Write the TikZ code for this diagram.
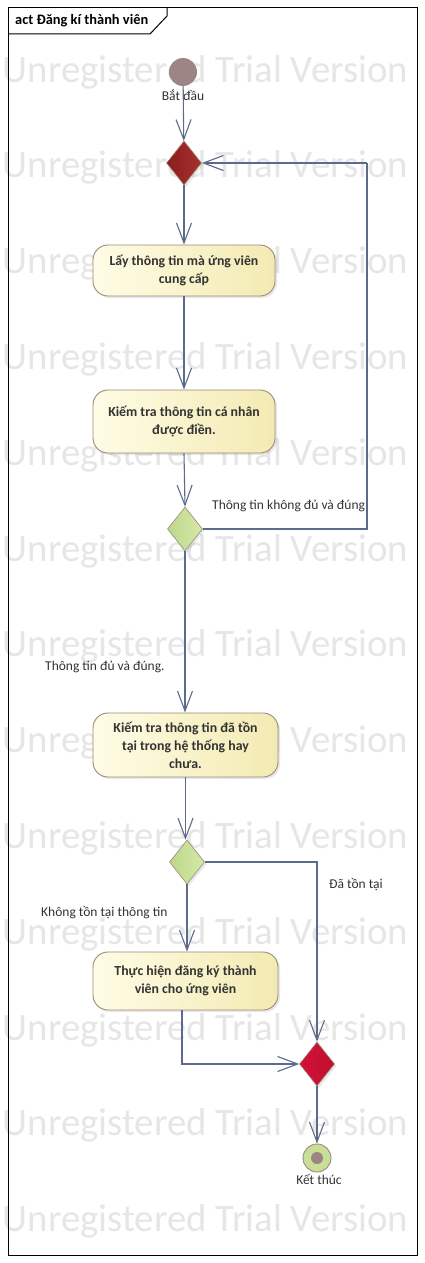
\documentclass[tikz,border=0pt]{standalone}
\usepackage{fontspec}
\setmainfont{Carlito}
\usetikzlibrary{arrows.meta,shapes.geometric,shadows}
\definecolor{linec}{HTML}{5C6B8A}
\definecolor{wmark}{HTML}{E6E6E6}
\definecolor{boxl}{HTML}{FFFCE6}
\definecolor{boxr}{HTML}{F3EAB2}
\definecolor{boxb}{HTML}{9C8A78}
\definecolor{startc}{HTML}{9E8585}
\definecolor{darkred1}{HTML}{8C1C1C}
\definecolor{darkred2}{HTML}{A83030}
\definecolor{crim1}{HTML}{D41038}
\definecolor{crim2}{HTML}{C01030}
\definecolor{grn1}{HTML}{BCD88A}
\definecolor{grn2}{HTML}{D6E8A8}
\definecolor{endg}{HTML}{C8DF98}
\definecolor{txt}{HTML}{333333}
\tikzset{
  wm/.style={font=\fontsize{38.8}{42}\selectfont, text=wmark, inner sep=0pt},
  actbox/.style={rectangle, rounded corners=15pt, draw=boxb, line width=0.9pt,
    left color=boxl, right color=boxr, align=center, text=txt,
    font=\bfseries\fontsize{13.8}{18}\selectfont, inner sep=2pt,
    drop shadow={opacity=0.18, shadow xshift=2pt, shadow yshift=-2pt}},
  decis/.style={diamond, inner sep=0pt, minimum width=35pt, minimum height=44pt,
    draw=boxb, line width=0.6pt,
    drop shadow={opacity=0.18, shadow xshift=2pt, shadow yshift=-2pt}},
  lbl/.style={font=\fontsize{13.5}{15}\selectfont, text=txt, inner sep=0pt},
  flow/.style={draw=linec, line width=1.1pt,
    -{Straight Barb[length=20pt, width=15pt, line width=1.1pt]}},
  flowline/.style={draw=linec, line width=1.1pt},
}
\begin{document}
\begin{tikzpicture}[x=1pt, y=-1pt]
\useasboundingbox (0,0) rectangle (425,1263);
\fill[white] (0,0) rectangle (425,1263);
% watermark
\foreach \k in {0,...,12}{
  \node[wm] (wm\k) at (205.5,{72+95.8*\k}) {Unregistered Trial Version};
}
% frame
\draw[black, line width=1pt] (8,8) rectangle (417,1255);
\draw[black, line width=1pt] (8,34) -- (150,34) -- (167,16) -- (167,8);
\node[anchor=west, inner sep=0pt, font=\bfseries\fontsize{14.4}{16}\selectfont] (title) at (15,21) {act Đăng kí thành viên};

% start
\node[circle, fill=startc, minimum size=28pt, inner sep=0pt] (start) at (183,72) {};
\node[lbl] (startl) at (183,95) {Bắt đầu};

% decisions
\node[decis, left color=darkred1, right color=darkred2] (d1) at (184,163) {};
\node[decis, left color=grn1, right color=grn2] (d2) at (185,529) {};
\node[decis, left color=grn1, right color=grn2] (d3) at (187,862) {};
\node[decis, left color=crim1, right color=crim2] (d4) at (317,1064) {};

% activities
\node[actbox, minimum width=182pt, minimum height=51pt] (b1) at (184,270.5) {Lấy thông tin mà ứng viên\\cung cấp};
\node[actbox, minimum width=182pt, minimum height=63pt] (b2) at (184,421.5) {Kiếm tra thông tin cá nhân\\được điền.};
\node[actbox, minimum width=185pt, minimum height=64pt] (b3) at (185.5,745) {Kiếm tra thông tin đã tồn\\tại trong hệ thống hay\\chưa.};
\node[actbox, minimum width=185pt, minimum height=58pt] (b4) at (185.5,981) {Thực hiện đăng ký thành\\viên cho ứng viên};

% end
\node[circle, fill=endg, draw=boxb, line width=0.9pt, minimum size=28pt, inner sep=0pt] (end) at (317,1158) {};
\node[circle, fill=startc, minimum size=12pt, inner sep=0pt] (endin) at (end.center) {};
\node[lbl] (endl) at (319,1179) {Kết thúc};

% coordinates
\coordinate (loopc) at (367,163);

% flows
\draw[flow] (start) -- (d1);
\draw[flow] (d1) -- (b1);
\draw[flow] (b1.south) -- (b1.south |- b2.north);
\draw[flow] (b2.south) -- (d2.north);
\draw[flowline] (d2.east) -| (loopc);
\draw[flow] (loopc) -- (d1.east);
\draw[flow] (d2.south) -- (d2.south |- b3.north);
\draw[flow] (b3.south) -- (b3.south |- d3.north);
\draw[flow] (d3.east) -| (d4.north);
\draw[flow] (d3.south) -- (d3.south |- b4.north);
\draw[flow] ([xshift=-3.5pt]b4.south) |- (d4.west);
\draw[flow] (d4.south) -- (end.north);

% labels
\node[lbl, anchor=west] (l1) at (212,506) {Thông tin không đủ và đúng};
\node[lbl, anchor=west] (l2) at (45,667) {Thông tin đủ và đúng.};
\node[lbl, anchor=west] (l3) at (329,885) {Đã tồn tại};
\node[lbl, anchor=west] (l4) at (41,913) {Không tồn tại thông tin};
\end{tikzpicture}
\end{document}
